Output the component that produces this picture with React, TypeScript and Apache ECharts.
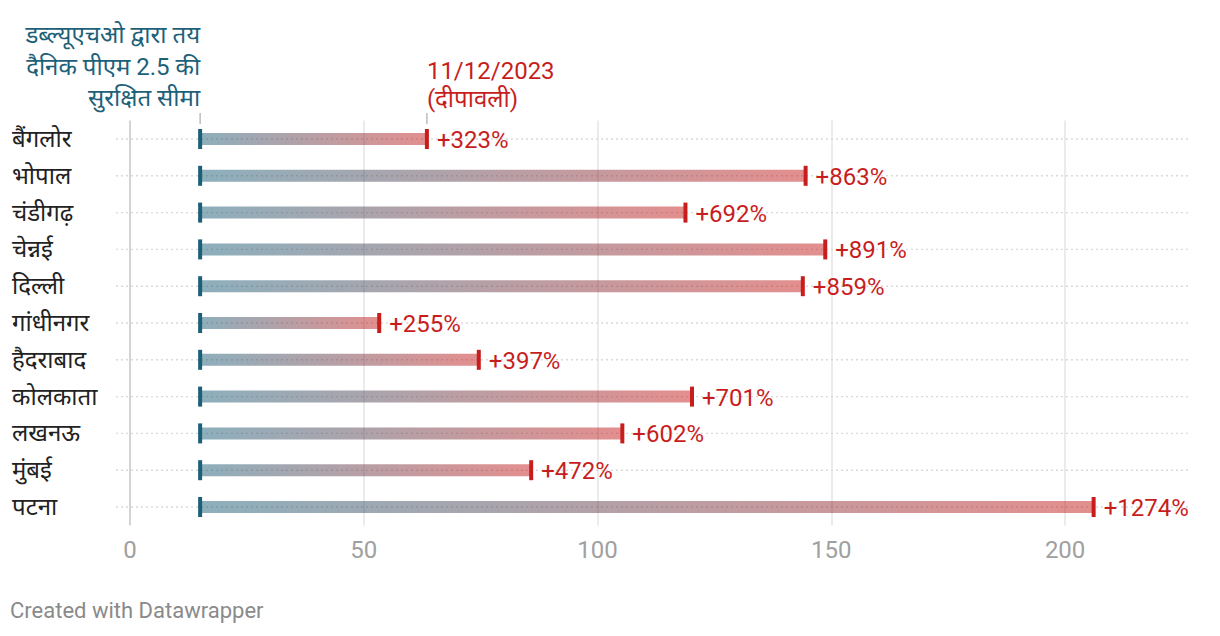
import React, { useEffect, useRef } from "react";
import * as echarts from "echarts";

const cities = ["बैंगलोर", "भोपाल", "चंडीगढ़", "चेन्नई", "दिल्ली", "गांधीनगर", "हैदराबाद", "कोलकाता", "लखनऊ", "मुंबई", "पटना"];
const whoLimit = 15;
const diwaliValues = [63.5, 144.5, 118.8, 148.7, 143.9, 53.3, 74.6, 120.2, 105.3, 85.8, 206.1];
const pctLabels = ["+323%", "+863%", "+692%", "+891%", "+859%", "+255%", "+397%", "+701%", "+602%", "+472%", "+1274%"];
const xTicks = [0, 50, 100, 150, 200];
const whoNoteLines = ["डब्ल्यूएचओ द्वारा तय", "दैनिक पीएम 2.5 की", "सुरक्षित सीमा"];
const diwaliNoteLines = ["11/12/2023", "(दीपावली)"];

const FONT = "Roboto, 'Noto Sans', 'DejaVu Sans', sans-serif";
const TEAL = "#1b5f79";
const RED = "#c71e1d";

export default function App() {
  const ref = useRef<HTMLDivElement>(null);
  useEffect(() => {
    if (!ref.current) return;
    const chart = echarts.init(ref.current, null, { renderer: "svg" });
    const data = cities.map((c, i) => [whoLimit, diwaliValues[i], i, pctLabels[i]]);
    const option: any = {
      animation: false,
      backgroundColor: "#ffffff",
      grid: { left: 130, top: 120.6, width: 1052, height: 404.8 },
      xAxis: {
        type: "value",
        min: 0,
        max: 225,
        interval: 50,
        axisLine: { show: false },
        axisTick: { show: false },
        axisLabel: {
          margin: 13,
          color: "#a0a0a0",
          fontSize: 24,
          fontFamily: FONT,
          formatter: (v: number) => (xTicks.indexOf(v) >= 0 ? String(v) : ""),
        },
        splitLine: {
          show: true,
          lineStyle: {
            color: ["#c6c6c6", "#e4e4e4", "#e4e4e4", "#e4e4e4", "#e4e4e4", "rgba(0,0,0,0)"],
            width: 1.5,
          },
        },
      },
      yAxis: {
        type: "category",
        data: cities,
        inverse: true,
        axisLine: { show: false },
        axisTick: { show: false },
        splitLine: { show: false },
        axisLabel: {
          align: "left",
          margin: 118,
          color: "#222222",
          fontSize: 24,
          fontFamily: FONT,
        },
      },
      series: [
        {
          type: "custom",
          clip: false,
          encode: { x: [0, 1], y: 2 },
          data,
          renderItem: (params: any, api: any) => {
            const idx = api.value(2);
            const s = api.coord([api.value(0), idx]);
            const e = api.coord([api.value(1), idx]);
            const cs = params.coordSys;
            const label = pctLabels[params.dataIndex];
            return {
              type: "group",
              children: [
                {
                  type: "line",
                  shape: { x1: cs.x - 14, y1: s[1], x2: cs.x + cs.width + 8, y2: s[1] },
                  style: { stroke: "#d9d9d9", lineWidth: 1.4, lineDash: [2, 3] },
                },
                {
                  type: "rect",
                  shape: { x: s[0], y: s[1] - 6, width: e[0] - s[0], height: 12 },
                  style: {
                    fill: new echarts.graphic.LinearGradient(0, 0, 1, 0, [
                      { offset: 0, color: "rgba(27,95,121,0.5)" },
                      { offset: 1, color: "rgba(199,30,29,0.5)" },
                    ]),
                  },
                },
                {
                  type: "rect",
                  shape: { x: s[0] - 2, y: s[1] - 10, width: 4, height: 20 },
                  style: { fill: TEAL },
                },
                {
                  type: "rect",
                  shape: { x: e[0] - 2, y: s[1] - 10, width: 4, height: 20 },
                  style: { fill: RED },
                },
                {
                  type: "text",
                  style: {
                    text: label,
                    x: e[0] + 10,
                    y: s[1] + 1,
                    fill: RED,
                    fontSize: 24,
                    fontFamily: FONT,
                    textAlign: "left",
                    textVerticalAlign: "middle",
                    align: "left",
                    verticalAlign: "middle",
                  },
                },
              ],
            };
          },
        },
      ],
    };
    chart.setOption(option);

    const pxWho = chart.convertToPixel({ xAxisIndex: 0 }, whoLimit) as number;
    const pxDiwali = chart.convertToPixel({ xAxisIndex: 0 }, diwaliValues[0]) as number;
    const whoYs = [35, 67, 98];
    const dYs = [71, 99];
    const graphic: any[] = [];
    whoNoteLines.forEach((t, i) => {
      graphic.push({
        type: "text",
        x: pxWho,
        y: whoYs[i],
        style: {
          text: t,
          fill: "#1d6179",
          fontSize: 24,
          fontFamily: FONT,
          textAlign: "right",
          textVerticalAlign: "middle",
          align: "right",
          verticalAlign: "middle",
        },
      });
    });
    diwaliNoteLines.forEach((t, i) => {
      graphic.push({
        type: "text",
        x: pxDiwali,
        y: dYs[i],
        style: {
          text: t,
          fill: RED,
          fontSize: 24,
          fontFamily: FONT,
          textAlign: "left",
          textVerticalAlign: "middle",
          align: "left",
          verticalAlign: "middle",
        },
      });
    });
    [pxWho, pxDiwali].forEach((x) => {
      graphic.push({
        type: "line",
        shape: { x1: x, y1: 113, x2: x, y2: 124 },
        style: { stroke: "#bdbdbd", lineWidth: 1.5 },
      });
    });
    graphic.push({
      type: "text",
      x: 10,
      y: 610,
      style: {
        text: "Created with Datawrapper",
        fill: "#8a8a8a",
        fontSize: 22,
        fontFamily: FONT,
        textAlign: "left",
        textVerticalAlign: "middle",
        align: "left",
        verticalAlign: "middle",
      },
    });
    chart.setOption({ graphic });

    return () => chart.dispose();
  }, []);
  return (
    <div
      ref={ref}
      style={{ position: "fixed", left: 0, top: 0, width: 1220, height: 636, background: "#fff" }}
    />
  );
}
